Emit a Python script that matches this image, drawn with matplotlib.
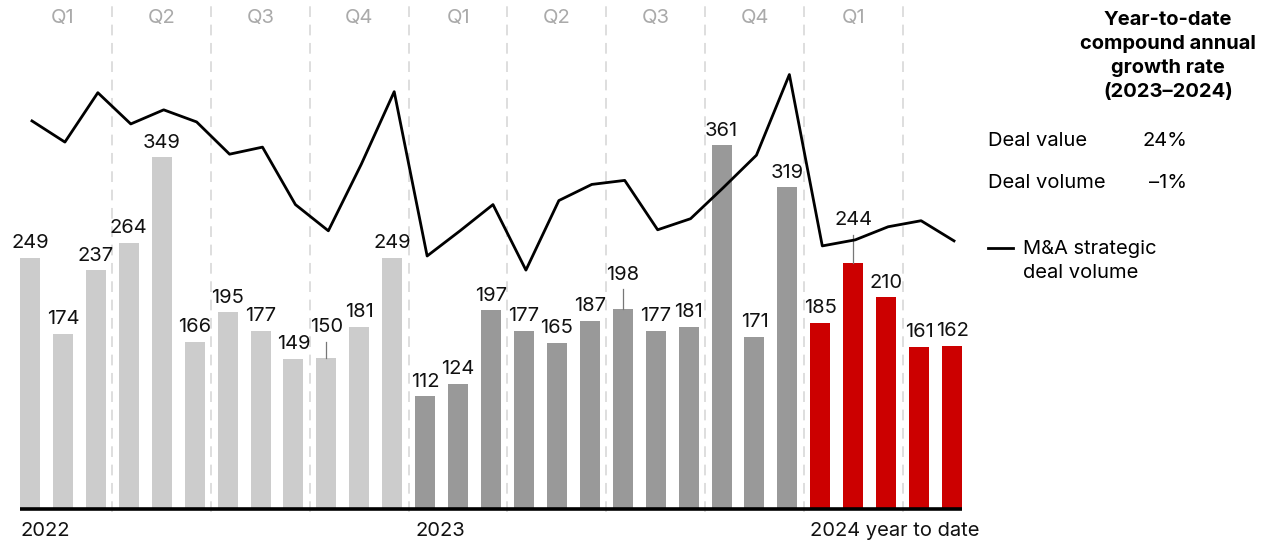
import matplotlib.pyplot as plt
import numpy as np

# monthly strategic M&A deal value ($ billion), Jan 2022 - May 2024
value_2022 = [249, 174, 237, 264, 349, 166, 195, 177, 149, 150, 181, 249]
value_2023 = [112, 124, 197, 177, 165, 187, 198, 177, 181, 361, 171, 319]
value_2024 = [185, 244, 210, 161, 162]

# strategic deal volume (relative index), same months
deal_volume = [385, 364, 413, 382, 396, 384, 352, 359, 302, 276, 342, 414,
               251, 276, 302, 237, 306, 322, 326, 277, 288, 319, 351, 431,
               261, 267, 280, 286, 266]

quarters = ["Q1", "Q2", "Q3", "Q4", "Q1", "Q2", "Q3", "Q4", "Q1"]
years = ["2022", "2023", "2024 year to date"]

cagr_labels = ["Deal value", "Deal volume"]
cagr_values = ["24%", "\u20131%"]

# labels that sit higher with a leader line, index -> extra lift
lifted = {9: 16, 18: 20, 25: 28}

plt.rcParams['font.family'] = ['Inter', 'DejaVu Sans']
FS = 14.5

W, H = 1270, 546
fig = plt.figure(figsize=(W / 100, H / 100), dpi=100)
ax = fig.add_axes([0, 0, 1, 1])

step = 32.93          # px per month
ppu = 1.008           # px per value unit
x0 = 30               # px centre of first bar
base = 509            # px baseline from top

ax.set_xlim(-x0 / step, (W - x0) / step)
ax.set_ylim(-(H - base) / ppu, base / ppu)
ax.axis('off')

values = value_2022 + value_2023 + value_2024
colors = ['#cccccc'] * len(value_2022) + ['#999999'] * len(value_2023) + ['#cc0000'] * len(value_2024)
x = np.arange(len(values))

# quarter separators
top = base / ppu
for b in np.arange(2.5, len(values) - 2, 3):
    ax.plot([b, b], [-3, top], color='#d4d4d4', lw=1.1, ls=(0, (7, 5)), zorder=1)

ax.bar(x, values, width=0.607, color=colors, zorder=2)
ax.plot([-0.303, len(values) - 1 + 0.303], [0, 0], color='black', lw=2.6,
        solid_capstyle='butt', zorder=3)

for i, v in enumerate(values):
    lift = lifted.get(i, 0)
    if lift:
        ax.plot([i, i], [v, v + lift], color='#777777', lw=0.9, zorder=2)
    ax.annotate(str(v), (i, v + lift), xytext=(0, 4), textcoords='offset points',
                ha='center', va='bottom', fontsize=FS, color='#111111', zorder=5)

ax.plot(x + 0.06, deal_volume, color='black', lw=2, zorder=4)

# quarter labels along the top
for q, name in enumerate(quarters):
    ax.text(q * 3 + 1, (base - 18) / ppu, name, ha='center', va='center',
            fontsize=FS, color='#aaaaaa')

# year labels under the axis
for k, name in enumerate(years):
    ax.text(k * 12 - 0.303, -22 / ppu, name, ha='left', va='center',
            fontsize=FS, color='#111111')

# right-hand panel
fig.text(1168 / W, 1 - 56 / H, "Year-to-date\ncompound annual\ngrowth rate\n(2023\u20132024)",
         ha='center', va='center', fontsize=FS, fontweight='bold', linespacing=1.42)
for k, (lab, val) in enumerate(zip(cagr_labels, cagr_values)):
    yy = 1 - (141 + 42 * k) / H
    fig.text(988 / W, yy, lab, ha='left', va='center', fontsize=FS)
    fig.text(1187 / W, yy, val, ha='right', va='center', fontsize=FS)

fig.add_artist(plt.Line2D([988 / W, 1013 / W], [1 - 248 / H, 1 - 248 / H],
                          color='black', lw=2))
fig.text(1023 / W, 1 - 261 / H, "M&A strategic\ndeal volume", ha='left', va='center',
         fontsize=FS, linespacing=1.4)

fig.savefig('out.png', dpi=100)
